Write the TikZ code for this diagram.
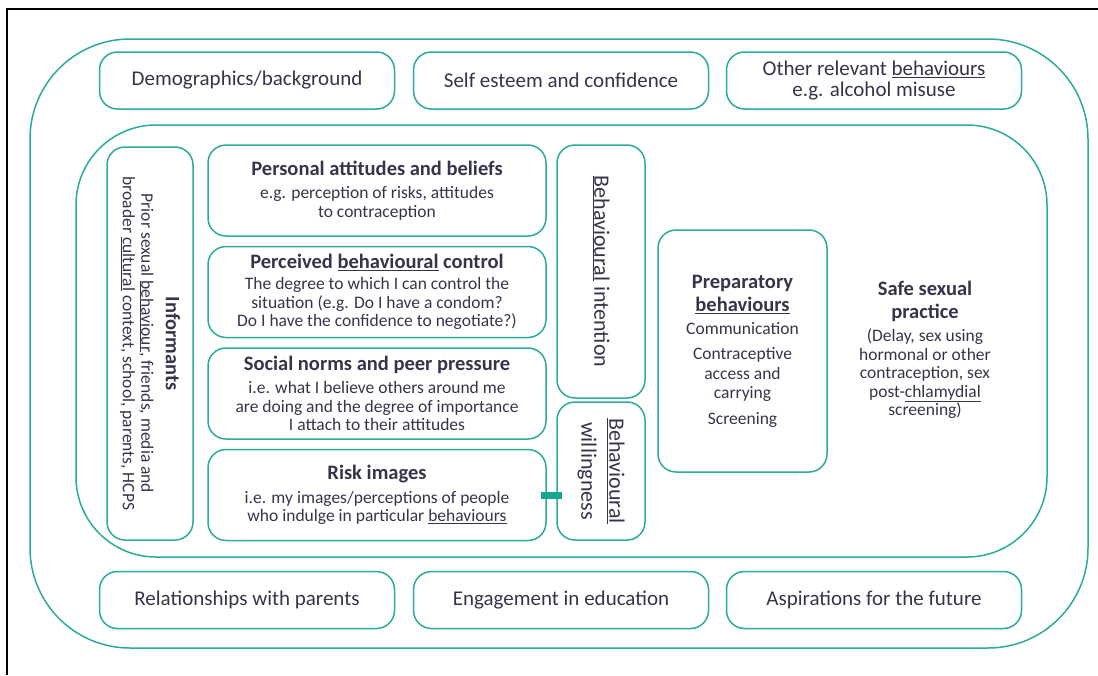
\documentclass[tikz,border=0pt]{standalone}
\usepackage{fontspec}
\setmainfont{Carlito}
\usetikzlibrary{positioning}
\definecolor{frameteal}{HTML}{2AAB9B}
\definecolor{barteal}{HTML}{17A68F}
\definecolor{ink}{HTML}{36344A}
\newcommand{\hd}{\bfseries\fontsize{20.5}{24}\selectfont}
\newcommand{\bd}{\fontsize{17.5}{18.5}\selectfont}
\tikzset{
  box/.style={draw=frameteal, line width=1.5pt, rounded corners=18pt, align=center, text=ink, inner sep=2pt},
  rowbox/.style={box, minimum width=295pt, minimum height=57pt, font=\fontsize{21}{21}\selectfont},
  leftbox/.style={box, minimum width=338pt, minimum height=91pt, font=\bd},
  sidebox/.style={box, rotate=-90},
  link/.style={draw=barteal, line width=7pt, shorten <=-6pt, shorten >=-6pt}
}
\begin{document}
\begin{tikzpicture}[x=1pt, y=-1pt]
\useasboundingbox (0,0) rectangle (1098,675);
% page frame, cut at right and bottom
\draw[line width=2pt] (7,675) -- (7,9) -- (1098,9);
% outer and inner containers
\draw[frameteal, line width=1.5pt, rounded corners=100pt] (30,39) rectangle (1088,648);
\draw[frameteal, line width=1.5pt, rounded corners=80pt] (76,125) rectangle (1047,557);
% top and bottom rows
\foreach \name/\cx/\cy/\txt in {
  demo/247/80.5/{Demographics/background},
  esteem/561/80.5/{Self esteem and confidence},
  other/874/80.5/{Other relevant \underline{behaviours}\\e.g. alcohol misuse},
  parents/247/600/{Relationships with parents},
  educ/561/600/{Engagement in education},
  future/874/600/{Aspirations for the future}}
  \node[rowbox] (\name) at (\cx,\cy) {\txt};
% informants
\node[sidebox, minimum width=393pt, minimum height=86pt, font=\bd] (inform) at (150,343.5)
  {{\hd Informants}\\[6pt] Prior sexual \underline{behaviour}, friends, media and\\ broader \underline{cultural} context, school, parents, HCPS};
% left column
\node[leftbox] (personal) at (377,190.5)
  {{\hd Personal attitudes and beliefs}\\[5pt] e.g. perception of risks, attitudes\\ to contraception};
\node[leftbox, below=9pt of personal] (perceived)
  {{\hd Perceived \underline{behavioural} control}\\[3pt] The degree to which I can control the\\ situation (e.g. Do I have a condom?\\ Do I have the confidence to negotiate?)};
\node[leftbox, below=9pt of perceived] (social)
  {{\hd Social norms and peer pressure}\\[5pt] i.e. what I believe others around me\\ are doing and the degree of importance\\ I attach to their attitudes};
\node[leftbox, below=9pt of social] (risk)
  {{\hd Risk images}\\[5pt] i.e. my images/perceptions of people\\ who indulge in particular \underline{behaviours}};
% intention and willingness
\node[sidebox, minimum width=253pt, minimum height=88pt, font=\fontsize{22}{26}\selectfont] (intent) at (601,271.5)
  {\underline{Behavioural} intention};
\node[sidebox, minimum width=138pt, minimum height=88pt, font=\fontsize{22}{28}\selectfont] (will) at (601,471)
  {\underline{Behavioural}\\ willingness};
\draw[link] (risk.east) -- (risk.east -| will.south);
% preparatory behaviours and outcome
\node[box, minimum width=169pt, minimum height=242pt, font=\fontsize{17.5}{19.5}\selectfont] (prep) at (742.5,351)
  {{\hd Preparatory}\\[4pt] {\hd \underline{behaviours}}\\[3pt] Communication\\[6pt] Contraceptive\\ access and\\ carrying\\[6pt] Screening};
\node[align=center, text=ink, font=\bd] (safe) at (925,350)
  {{\hd Safe sexual}\\[4pt] {\hd practice}\\[5pt] (Delay, sex using\\ hormonal or other\\ contraception, sex\\ post-\underline{chlamydial}\\ screening)};
\end{tikzpicture}
\end{document}
